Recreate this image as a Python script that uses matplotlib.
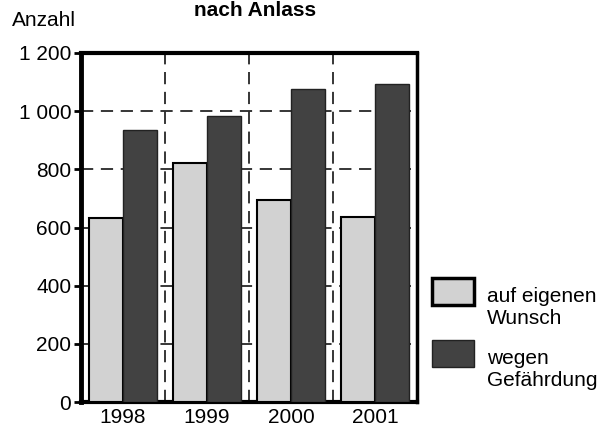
import matplotlib
matplotlib.use("Agg")
import matplotlib.pyplot as plt
from matplotlib.ticker import FixedLocator
from matplotlib.patches import Rectangle
import numpy as np

plt.rcParams['font.family'] = ['Liberation Sans', 'DejaVu Sans']

years = ['1998', '1999', '2000', '2001']
eigener_wunsch = [633, 822, 695, 635]
gefaehrdung = [935, 983, 1075, 1092]
series_labels = ['auf eigenen\nWunsch', 'wegen\nGefährdung']
ytick_values = [0, 200, 400, 600, 800, 1000, 1200]
ytick_labels = ['0', '200', '400', '600', '800', '1 000', '1 200']
title = 'nach Anlass'
ylabel = 'Anzahl'

W, H = 611, 430
fig = plt.figure(figsize=(W/100, H/100), dpi=100)
ax = fig.add_axes([81/W, 1 - 402/H, (417-81)/W, (402-53)/H])

x = np.arange(len(years))
w = 0.405
light = '#d2d2d2'
dark = '#424242'
b1 = ax.bar(x - w/2, eigener_wunsch, w, color=light, edgecolor='black', linewidth=1.5, zorder=3,
            label=series_labels[0])
b2 = ax.bar(x + w/2, gefaehrdung, w, color=dark, edgecolor='#222222', linewidth=1.0, zorder=3,
            label=series_labels[1])

ax.set_xlim(-0.5, 3.5)
ax.set_ylim(0, 1200)
ax.set_xticks(x)
ax.set_xticklabels(years)
ax.xaxis.set_minor_locator(FixedLocator([0.5, 1.5, 2.5]))
ax.set_yticks(ytick_values)
ax.set_yticklabels(ytick_labels)

ax.tick_params(axis='x', which='both', length=0, labelsize=15, pad=4)
ax.tick_params(axis='y', length=5, width=2, direction='out', labelsize=15, pad=2)

ax.grid(True, axis='y', which='major', color='black', linestyle=(0, (8, 5)), linewidth=1.1, zorder=1)
ax.grid(True, axis='x', which='minor', color='black', linestyle=(0, (8, 5)), linewidth=1.1, zorder=1)
ax.grid(False, axis='x', which='major')

for s, lw in [('left', 3.5), ('bottom', 3.0), ('top', 3.0), ('right', 2.5)]:
    ax.spines[s].set_linewidth(lw)
    ax.spines[s].set_color('black')

# legend (handles take their style from the bars, first text line aligned to the swatch)
legend_items = [(b1, 278, 287), (b2, 340, 349)]
for (bars, y_patch, y_text), lab in zip(legend_items, series_labels):
    p = bars.patches[0]
    fig.add_artist(Rectangle((432/W, 1 - (y_patch + 27)/H), 42/W, 27/H,
                             transform=fig.transFigure, facecolor=p.get_facecolor(),
                             edgecolor=p.get_edgecolor(), linewidth=2.5 if bars is b1 else 1.0))
    fig.text(487/W, 1 - y_text/H, lab, fontsize=15, ha='left', va='top', linespacing=1.2)

fig.text(12/W, 1 - 26/H, ylabel, fontsize=15, ha='left', va='baseline')
fig.text(255/W, 1 - 16/H, title, fontsize=15, fontweight='bold', ha='center', va='baseline')

fig.savefig('out.png', dpi=100)
